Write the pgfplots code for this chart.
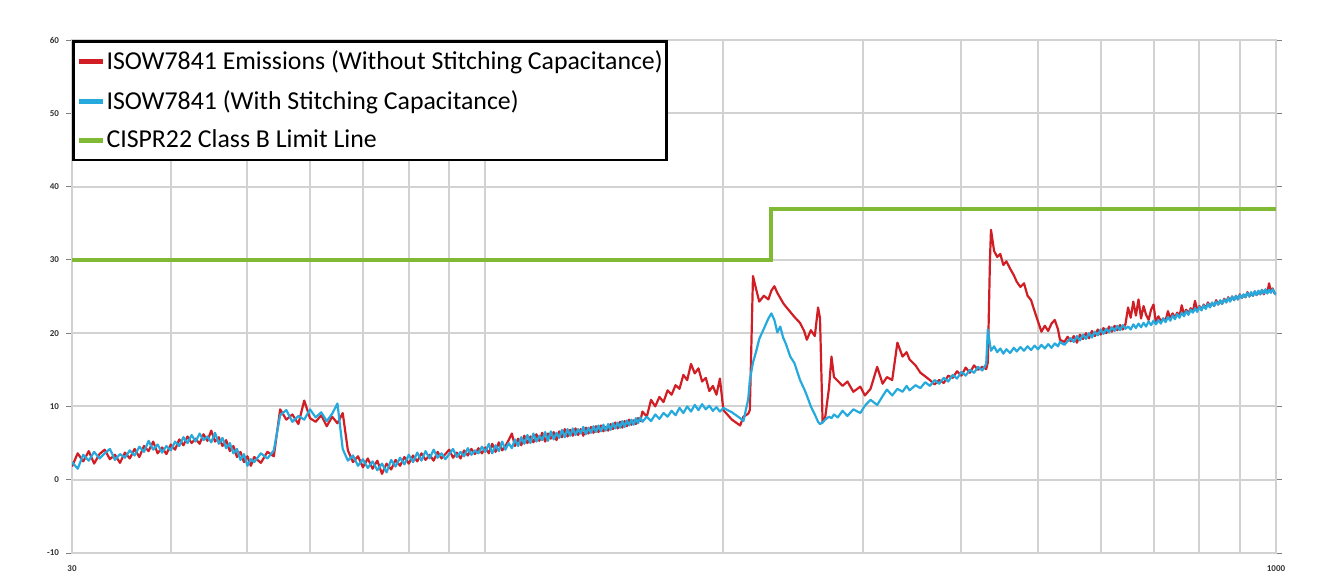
\documentclass[border=0pt]{standalone}
\usepackage{fontspec}
\setmainfont{Carlito}
\usepackage{pgfplots}
\usepackage{pgfplotstable}
\pgfplotsset{compat=1.18}
\definecolor{cred}{RGB}{208,30,36}
\definecolor{cblue}{RGB}{38,170,222}
\definecolor{cgreen}{RGB}{128,186,52}
\definecolor{cgrid}{RGB}{210,210,210}
\pgfplotstableread{
f r b
30.0 1.8 2.4
30.5 3.6 1.5
31.0 2.5 3.4
31.5 3.9 2.6
32.0 2.2 3.8
32.5 3.5 2.9
33.0 4.1 3.6
33.5 2.8 4.2
34.0 3.4 2.7
34.5 2.3 3.5
35.0 3.7 3.0
35.5 2.9 4.0
36.0 4.2 3.3
36.5 3.1 4.5
37.0 4.6 3.8
37.5 3.9 5.3
38.0 5.2 4.1
38.5 3.6 4.8
39.0 4.4 3.7
39.5 3.5 4.6
40.0 4.8 4.0
40.5 4.1 5.2
41.0 5.5 4.6
41.5 4.7 5.8
42.0 5.9 5.0
42.5 5.0 6.1
43.0 5.6 5.2
43.5 4.9 6.3
44.0 6.2 5.4
44.5 5.3 5.9
45.0 6.7 5.1
45.5 5.2 6.4
46.0 5.8 4.9
46.5 4.6 5.7
47.0 5.4 4.3
47.5 3.9 5.0
48.0 4.6 3.6
48.5 3.1 4.2
49.0 3.8 2.7
49.5 2.4 3.5
50.0 3.2 1.9
50.5 1.9 2.8
51.0 3.1 2.4
52.0 2.3 3.6
53.0 3.8 2.9
54.0 3.2 4.0
55.0 9.6 8.8
56.0 8.2 9.5
57.0 8.9 7.9
58.0 7.6 8.7
59.0 10.8 8.2
60.0 8.4 9.6
61.0 7.9 8.5
62.0 8.8 9.2
63.0 7.3 8.0
64.0 8.6 9.0
65.0 7.7 10.4
66.0 9.1 4.2
67.0 4.0 2.6
68.0 2.4 3.3
69.0 3.2 1.9
70.0 1.7 2.8
71.0 2.9 1.6
72.0 1.5 2.5
73.0 2.6 1.3
74.0 0.8 2.2
75.0 2.2 1.0
76.0 1.4 2.7
77.0 2.7 1.8
78.0 1.9 3.0
79.0 3.1 2.1
80.0 2.2 3.4
81.0 3.3 2.4
82.0 2.5 3.7
83.0 3.6 2.6
84.0 2.7 3.9
85.0 3.4 2.9
86.0 2.6 4.1
87.0 3.8 3.0
88.0 2.9 3.6
89.0 3.5 2.8
90.0 4.1 3.5
91.0 3.0 4.2
92.0 3.7 3.1
93.0 2.9 3.8
94.0 4.0 3.2
95.0 3.3 4.3
96.0 4.2 3.4
97.0 3.5 4.0
98.0 4.3 3.6
99.0 3.6 4.5
100 4.4 3.8
101 3.6 4.9
102 4.9 3.6
103 3.8 4.7
104 5.1 3.9
105 4.0 5.2
106 4.6 4.1
107 5.4 5.0
108 6.3 4.3
109 4.6 5.5
110 5.6 4.6
111 4.7 5.8
112 6.0 4.9
113 5.0 6.1
114 5.9 5.0
115 5.1 6.3
116 6.2 5.2
117 5.3 6.0
118 6.4 5.4
119 5.2 6.5
120 6.3 5.3
121 5.6 6.6
122 6.5 5.5
123 5.4 6.4
124 6.6 5.7
125 5.8 6.8
126 6.9 5.8
127 5.9 6.9
128 6.8 6.0
129 6.0 7.0
130 7.0 6.1
131 6.1 6.9
132 6.9 6.3
133 6.0 7.2
134 7.1 6.2
135 6.3 7.1
136 7.2 6.4
137 6.4 7.3
138 7.3 6.5
139 6.5 7.4
140 7.4 6.6
141 6.6 7.5
142 7.2 6.7
143 6.7 7.6
144 7.6 6.8
145 6.9 7.7
146 7.8 7.0
147 7.0 7.8
148 7.9 7.1
149 7.1 8.0
150 8.0 7.2
151 7.3 8.1
152 8.2 7.4
153 7.5 8.2
154 8.1 7.5
155 7.6 8.4
156 8.4 7.7
157 8.0 8.5
158 9.3 7.9
160 8.6 8.6
162 10.9 8.0
164 10.0 8.9
166 11.3 8.3
168 10.6 9.1
170 12.2 8.6
172 11.6 9.4
174 12.9 8.8
176 12.4 9.8
178 14.3 9.1
180 13.6 10.0
182 15.8 9.3
184 14.5 10.2
186 15.2 9.5
188 13.4 10.3
190 13.9 9.6
192 12.1 10.1
194 12.8 9.4
196 11.6 9.9
198 13.8 9.3
200 9.5 9.8
205 8.2 9.2
210 7.4 8.4
212 8.6 8.0
215 9.0 11.0
216 9.5 13.6
218 27.8 16.0
220 26.0 17.5
222 24.3 19.2
225 25.1 20.6
228 24.6 22.0
230 25.8 22.7
232 26.4 21.8
234 25.5 20.1
236 24.8 20.9
238 24.1 19.4
240 23.6 18.5
243 22.9 16.8
246 22.2 15.9
250 21.4 13.6
253 20.3 12.4
255 19.1 11.5
258 20.4 10.0
261 19.6 8.9
263.5 23.5 7.9
265 22.0 7.6
267 7.8 7.8
269 8.5 8.2
272 12.5 8.6
274 16.8 8.4
276 14.0 8.9
279 13.5 8.5
283 12.8 9.4
287 13.4 8.7
292 12.0 9.6
298 12.7 9.1
302 11.5 10.1
307 12.4 10.9
313 15.4 10.2
318 13.1 11.4
322 14.0 12.3
327 13.6 11.5
332 18.7 12.4
337 16.8 12.0
341 17.4 12.8
344 16.4 12.2
350 15.6 12.9
355 14.6 12.5
360 14.1 13.3
365 13.6 12.8
370 13.0 13.6
375 13.6 13.1
380 13.2 13.9
385 14.2 13.4
390 13.9 14.3
395 14.8 13.8
400 14.2 14.7
405 15.3 14.2
410 14.6 15.0
415 15.6 14.6
420 15.0 15.4
425 15.4 14.9
430 15.1 15.8
432 16.0 20.5
434.7 30.0 18.5
436 34.1 17.6
440 31.2 18.2
444 30.4 17.4
448 30.8 17.9
452 29.3 17.2
456 29.8 17.8
461 28.8 17.3
466 27.9 18.0
470 27.0 17.5
475 26.3 18.1
480 26.8 17.6
485 25.1 18.2
490 24.5 17.7
495 23.0 18.3
500 21.6 17.8
505 20.2 18.4
510 21.0 17.9
515 20.3 18.5
520 21.3 18.0
525 21.8 18.6
530 20.5 18.2
533 19.1 18.8
540 18.8 18.4
545 19.5 18.9
550 18.9 19.3
555 19.6 18.8
560 18.7 19.6
565 19.8 19.0
570 19.2 19.8
575 20.0 19.2
580 19.3 20.0
585 20.3 19.4
590 19.6 20.2
595 20.5 19.7
600 19.8 20.5
605 20.7 19.9
610 20.0 20.6
615 20.9 20.1
620 20.2 20.8
625 21.0 20.3
630 20.4 21.0
635 21.1 20.4
640 20.5 21.1
645 21.2 20.6
650 23.5 20.9
655 22.1 20.5
660 24.3 21.2
665 22.4 20.7
670 24.6 21.3
675 22.0 20.8
680 23.7 21.4
685 22.5 20.9
690 21.8 21.6
695 23.2 21.1
700 23.9 21.7
705 21.4 21.2
710 22.3 21.8
715 21.6 21.3
720 22.0 22.0
725 21.7 21.5
730 23.0 22.2
735 22.0 21.7
740 22.7 22.4
745 22.1 21.9
750 22.8 22.6
755 22.3 22.1
760 23.8 22.8
765 22.5 22.3
770 23.2 23.0
775 22.7 22.5
780 23.4 23.2
785 22.9 22.8
790 24.4 23.4
795 23.1 22.9
800 23.7 23.6
805 23.2 23.1
810 23.9 23.8
815 23.4 23.3
820 24.2 24.0
825 23.6 23.5
830 24.1 24.2
835 23.7 23.7
840 24.5 24.3
845 23.9 23.9
850 24.4 24.5
855 24.0 24.0
860 24.7 24.6
865 24.2 24.2
870 24.9 24.8
875 24.4 24.3
880 25.0 25.0
885 24.5 24.5
890 25.1 25.1
895 24.6 24.6
900 25.3 25.2
905 24.8 24.8
910 25.2 25.3
915 24.9 24.9
920 25.6 25.5
925 25.0 25.0
930 25.4 25.6
935 25.1 25.1
940 25.7 25.7
945 25.2 25.2
950 25.6 25.8
955 25.3 25.3
960 25.9 25.9
965 25.3 25.4
970 25.8 26.0
975 25.5 25.4
980 26.8 25.9
985 25.7 25.5
990 26.1 26.0
995 25.5 25.6
1000 25.3 25.2
}\datatable
\begin{document}
\begin{tikzpicture}
\begin{axis}[
  name=ax,
  scale only axis,
  width=602pt, height=256.5pt,
  xmode=log,
  xmin=30, xmax=1000,
  ymin=-10, ymax=60,
  ytick={-10,0,...,60},
  xtick={30,100,1000},
  xticklabels={30,,1000},
  minor xtick={40,50,60,70,80,90,200,300,400,500,600,700,800,900},
  log ticks with fixed point,
  grid=both,
  major grid style={cgrid, line width=1pt},
  minor grid style={cgrid, line width=1pt},
  axis line style={cgrid, line width=1pt},
  tick align=outside,
  major tick length=3pt,
  minor tick length=0pt,
  ytick style={gray, line width=0.5pt},
  xtick style={draw=none},
  /pgf/number format/assume math mode=true,
  tick label style={font=\fontsize{4.5}{5}\selectfont\bfseries, text=black!80},
  legend cell align=left,
  legend style={
    at={(0,1)}, anchor=north west,
    draw=black, line width=1.3pt, fill=white,
    font=\fontsize{12.9}{14}\selectfont,
    inner xsep=1.5pt, inner ysep=2.5pt,
    row sep=5pt,
    /tikz/every even column/.append style={column sep=0pt},
    nodes={inner xsep=0.5pt, inner ysep=2pt},
  },
  legend image code/.code={
    \draw[line width=2.6pt] (0pt,0pt) -- (12pt,0pt);
  },
]
\addplot[cred, line width=1.1pt, line join=round] table[x=f, y=r] {\datatable};
\addlegendentry{ISOW7841 Emissions (Without Stitching Capacitance)}
\addplot[cblue, line width=1.1pt, line join=round] table[x=f, y=b] {\datatable};
\addlegendentry{ISOW7841 (With Stitching Capacitance)}
\addplot[cgreen, line width=2pt] coordinates {(30,30) (230,30) (230,37) (1000,37)};
\addlegendentry{CISPR22 Class B Limit Line}
\end{axis}
\pgfresetboundingbox
\path ([shift={(-36pt,-15.5pt)}]ax.south west) rectangle ([shift={(31pt,20pt)}]ax.north east);
\end{tikzpicture}
\end{document}
